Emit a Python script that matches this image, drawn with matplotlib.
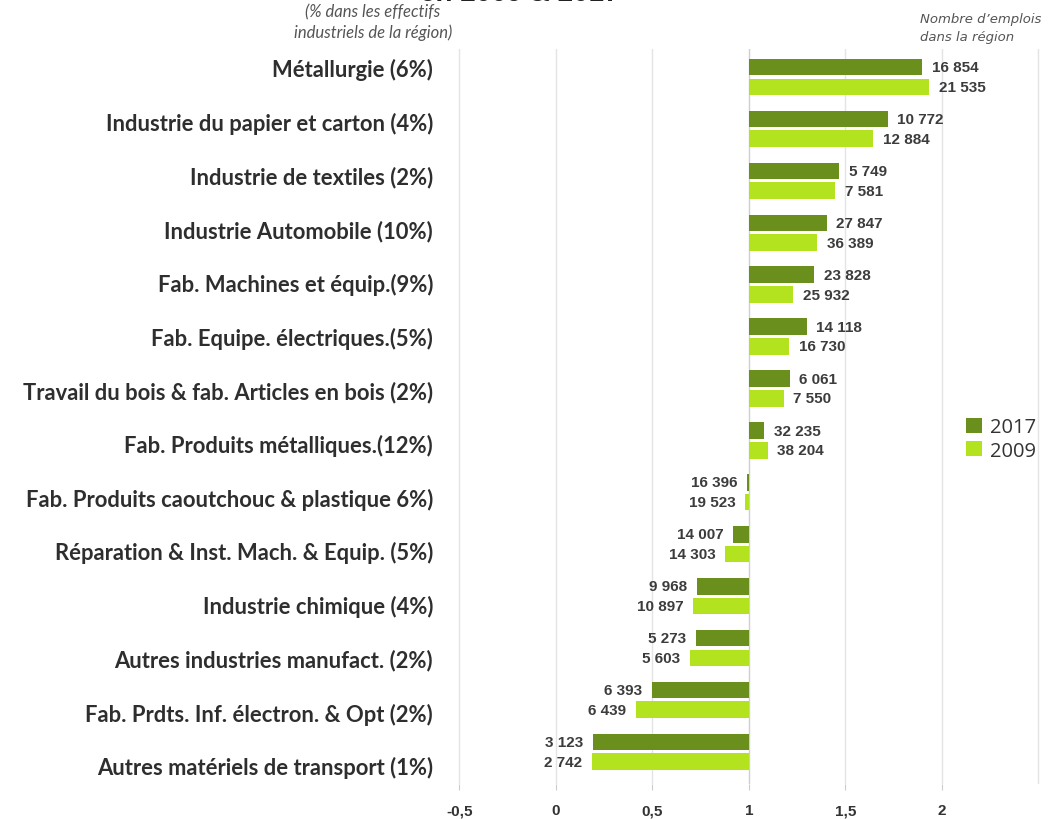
import matplotlib
matplotlib.use('Agg')
import matplotlib.pyplot as plt
import numpy as np

# Categories, top to bottom
categories = [
    'Métallurgie (6%)',
    'Industrie du papier et carton (4%)',
    'Industrie de textiles (2%)',
    'Industrie Automobile (10%)',
    'Fab. Machines et équip.(9%)',
    'Fab. Equipe. électriques.(5%)',
    'Travail du bois & fab. Articles en bois (2%)',
    'Fab. Produits métalliques.(12%)',
    'Fab. Produits caoutchouc & plastique 6%)',
    'Réparation & Inst. Mach. & Equip. (5%)',
    'Industrie chimique (4%)',
    'Autres industries manufact. (2%)',
    'Fab. Prdts. Inf. électron. & Opt (2%)',
    'Autres matériels de transport (1%)',
]

# index values (bars start at 1)
idx_2017 = [1.896, 1.719, 1.466, 1.402, 1.338, 1.299, 1.212, 1.078,
            0.99, 0.92, 0.729, 0.725, 0.496, 0.193]
idx_2009 = [1.933, 1.645, 1.446, 1.354, 1.228, 1.209, 1.181, 1.098,
            0.98, 0.876, 0.712, 0.694, 0.414, 0.185]

# number of jobs in the region
jobs_2017 = ['16 854', '10 772', '5 749', '27 847', '23 828', '14 118', '6 061',
             '32 235', '16 396', '14 007', '9 968', '5 273', '6 393', '3 123']
jobs_2009 = ['21 535', '12 884', '7 581', '36 389', '25 932', '16 730', '7 550',
             '38 204', '19 523', '14 303', '10 897', '5 603', '6 439', '2 742']

xticks = [-0.5, 0, 0.5, 1, 1.5, 2]
xtick_labels = ['-0,5', '0', '0,5', '1', '1,5', '2']

dark = '#6a8f1c'
light = '#b3e31e'
base = 1.0

fig = plt.figure(figsize=(10.57, 8.2), dpi=100)
ax = fig.add_axes([440 / 1057, 1 - 785 / 820, 612 / 1057, 735 / 820])

n = len(categories)
y = np.arange(n)[::-1]
off = 0.19
h = 0.32

ax.barh(y + off, np.array(idx_2017) - base, left=base, height=h, color=dark, label='2017', zorder=3)
ax.barh(y - off, np.array(idx_2009) - base, left=base, height=h, color=light, label='2009', zorder=3)

# value labels
def put_labels(ys, vals, texts):
    for yy, v, s in zip(ys, vals, texts):
        if v >= base:
            ax.text(v + 0.05, yy, s, ha='left', va='center', fontsize=11,
                    family='Liberation Sans', weight='bold', color='#3c3c3c')
        else:
            ax.text(v - 0.05, yy, s, ha='right', va='center', fontsize=11,
                    family='Liberation Sans', weight='bold', color='#3c3c3c')

put_labels(y + off, idx_2017, jobs_2017)
put_labels(y - off, idx_2009, jobs_2009)

ax.set_xlim(-0.6, 2.57)
ax.set_ylim(-0.62, n - 1 + 0.54)

# grid
for gx in [-0.5, 0, 0.5, 1.5, 2, 2.5]:
    ax.axvline(gx, color='#e4e4e4', lw=1, zorder=0)
ax.axvline(base, color='#cfcfcf', lw=1, zorder=1)

ax.set_xticks(xticks)
ax.set_xticklabels(xtick_labels, family='Liberation Sans', weight='bold', fontsize=11, color='#333333')
ax.tick_params(axis='x', length=4, color='#cccccc', pad=10)

# category labels are spread slightly wider than the bar groups in the original
label_pos = (n - 1) + 0.193 - 1.0347 * np.arange(n)
ax.set_yticks(label_pos)
ax.set_yticklabels(categories, family='Lato', weight='bold', fontsize=15.8, color='#2e2e2e')
ax.tick_params(axis='y', length=0, pad=5)

for sp in ax.spines.values():
    sp.set_visible(False)

ax.legend(loc='center left', bbox_to_anchor=(948 / 1057, 1 - 440 / 820),
          bbox_transform=fig.transFigure, frameon=False,
          handlelength=0.8, handleheight=0.8, handletextpad=0.4, labelspacing=0.15,
          prop={'family': 'Open Sans', 'size': 14.5})
for t in ax.get_legend().get_texts():
    t.set_color('#333333')

# header notes
fig.text(373 / 1057, 1 - 4 / 820, '(% dans les effectifs\nindustriels de la région)',
         ha='center', va='top', fontsize=12, style='italic', family='Lato',
         color='#555555', linespacing=1.3)
fig.text(920 / 1057, 1 - 13 / 820, 'Nombre d\u2019emplois\ndans la région',
         ha='left', va='top', fontsize=9.5, style='italic', family='DejaVu Sans',
         color='#555555', linespacing=1.55)
# cut-off title
fig.text(520 / 1057, 1 + 6 / 820, 'en 2009 & 2017', ha='center', va='center',
         fontsize=20, weight='bold', family='Liberation Sans', color='#222222')

fig.savefig('out.png', dpi=100)
